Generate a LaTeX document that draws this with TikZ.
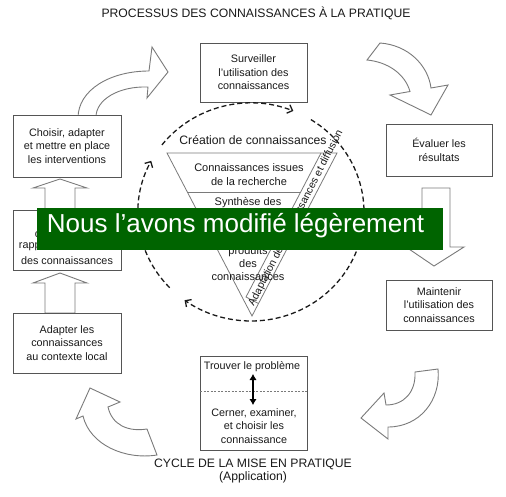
\documentclass[tikz,border=0pt]{standalone}
\usepackage{fontspec}
\setmainfont{Liberation Sans}
\usetikzlibrary{arrows.meta}
\definecolor{boxline}{HTML}{555555}
\definecolor{arrline}{HTML}{7A7A7A}
\definecolor{txt}{HTML}{1A1A1A}
\definecolor{bannergreen}{HTML}{006400}
\tikzset{
  box/.style={draw=boxline, line width=0.9pt, fill=white, inner sep=0pt, align=center, text=txt, font=\fontsize{10.8}{13.5}\selectfont},
  blockarrow/.style={draw=arrline, line width=0.9pt, fill=white, line join=miter},
  cyc/.style={draw=txt, line width=1.3pt, dash pattern=on 5pt off 3pt, -{Straight Barb[length=4.5pt,width=9pt]}},
  tri/.style={draw=arrline, line width=0.8pt},
  lbl/.style={text=txt, inner sep=0pt, align=center, font=\fontsize{10.8}{13.5}\selectfont},
  trilbl/.style={text=txt, inner sep=0pt, align=center, font=\fontsize{11}{13.2}\selectfont},
  capt/.style={text=txt, inner sep=0pt, anchor=base, font=\fontsize{12.2}{14}\selectfont},
  sepline/.style={draw=arrline, line width=0.8pt, dash pattern=on 2pt off 1.5pt},
}
\begin{document}
\begin{tikzpicture}[x=1pt,y=-1pt]
\useasboundingbox (0,0) rectangle (506,496);
\fill[white] (0,0) rectangle (506,496);

% titles
\node[capt] (title) at (256,17) {PROCESSUS DES CONNAISSANCES À LA PRATIQUE};
\node[capt] (cycle) at (253,467) {CYCLE DE LA MISE EN PRATIQUE};
\node[capt] (appl) at (253,480.5) {(Application)};

% big curved arrows
\draw[blockarrow] (78,118) .. controls (78,90) and (110,71) .. (149,71) -- (152,47) -- (168,72) -- (147,98) -- (148,87) .. controls (118,86) and (96,100) .. (96,117) -- cycle;
\draw[blockarrow] (380,43) .. controls (408,45) and (428,65) .. (431,88) -- (448,85) -- (431,115) -- (390,95) -- (410,91.5) .. controls (405,74) and (388,62) .. (367,60) -- cycle;
\draw[blockarrow] (438,369) .. controls (441,400) and (420,427) .. (388,427) -- (388,439) -- (361,418) -- (384,393) -- (386,405) .. controls (404,405) and (416,392) .. (415,372) -- cycle;
\draw[blockarrow] (157,455) .. controls (125,460) and (90,445) .. (83,416) -- (76,419) -- (90,388) -- (120,402) -- (108,407) .. controls (112,425) and (128,432) .. (147,429) -- cycle;

% straight block arrows
\draw[blockarrow] (45,210) -- (45,188) -- (33,188) -- (60,179) -- (87,188) -- (75,188) -- (75,210) -- cycle;
\draw[blockarrow] (45,313) -- (45,283) -- (33,283) -- (60,273) -- (87,283) -- (75,283) -- (75,313) -- cycle;
\draw[blockarrow] (422,188) -- (450,188) -- (450,247) -- (464,247) -- (434,266) -- (406,247) -- (422,247) -- cycle;

% boxes
\node[box, minimum width=107pt, minimum height=59pt] (surv) at (253.5,72.5) {Surveiller\\l'utilisation des\\connaissances};
\node[box, minimum width=108pt, minimum height=62pt] (choose) at (67,146) {Choisir, adapter\\et mettre en place\\les interventions};
\node[box, minimum width=108pt, minimum height=60pt] (barr) at (67,240) {Évaluer les\\obstacles par\\[-2.5pt]rapport à l'utilisation\\[2.5pt]des connaissances};
\node[box, minimum width=108pt, minimum height=60pt] (adapt) at (67,343) {Adapter les\\connaissances\\au contexte local};
\node[box, minimum width=106pt, minimum height=52pt] (eval) at (439,150) {Évaluer les\\résultats};
\node[box, minimum width=106pt, minimum height=50pt] (sustain) at (439,305) {Maintenir\\l'utilisation des\\connaissances};
\node[box, minimum width=107pt, minimum height=94pt] (prob) at (253.5,403) {};
\node[lbl, anchor=base] (find) at (252,369.5) {Trouver le problème};
\coordinate (dl) at (200,391);
\coordinate (dr) at (307,391);
\draw[sepline] (dl) -- (dr);
\coordinate (atop) at (253,374);
\coordinate (abot) at (253,405);
\draw[line width=2.6pt, draw=black, {Latex[length=6pt,width=7.5pt]}-{Latex[length=6pt,width=7.5pt]}] (atop) -- (abot);
\node[lbl] (select) at (254,426) {Cerner, examiner,\\et choisir les\\connaissance};

% funnel
\draw[tri] (167,153) -- (337,153) -- (252,316) -- cycle;
\draw[tri] (321,153) -- (246,297) -- (258.6,303.6);
\draw[tri] (187.3,192) -- (300.7,192);
\draw[tri] (204,225) -- (284,225);
\node[capt] (crea) at (253,144.5) {Création de connaissances};
\node[trilbl] (inq) at (249,174.5) {Connaissances issues\\de la recherche};
\node[trilbl] (syn) at (248,208) {Synthèse des\\connaissances};
\node[trilbl] (tools) at (248,257) {Outils/\\produits\\des\\connaissances};
\node[text=txt, inner sep=0pt, rotate=63, font=\fontsize{10.5}{12}\selectfont] (adiff) at (296,218) {Adaptation des connaissances et diffusion};

% dashed cycle
\draw[cyc] (251,212) ++(136:113 and 109) arc[start angle=136, end angle=208, x radius=113, y radius=109];
\draw[cyc] (251,212) ++(218:113 and 109) arc[start angle=218, end angle=292, x radius=113, y radius=109];
\draw[cyc] (251,212) ++(-58:113 and 109) arc[start angle=-58, end angle=126, x radius=113, y radius=109];

% banner
\fill[bannergreen] (37,208) rectangle (443,250);
\node[text=white, inner sep=0pt, anchor=base, font=\fontsize{26}{30}\selectfont] (ban) at (235.5,232) {Nous l’avons modifié légèrement};
\end{tikzpicture}
\end{document}
